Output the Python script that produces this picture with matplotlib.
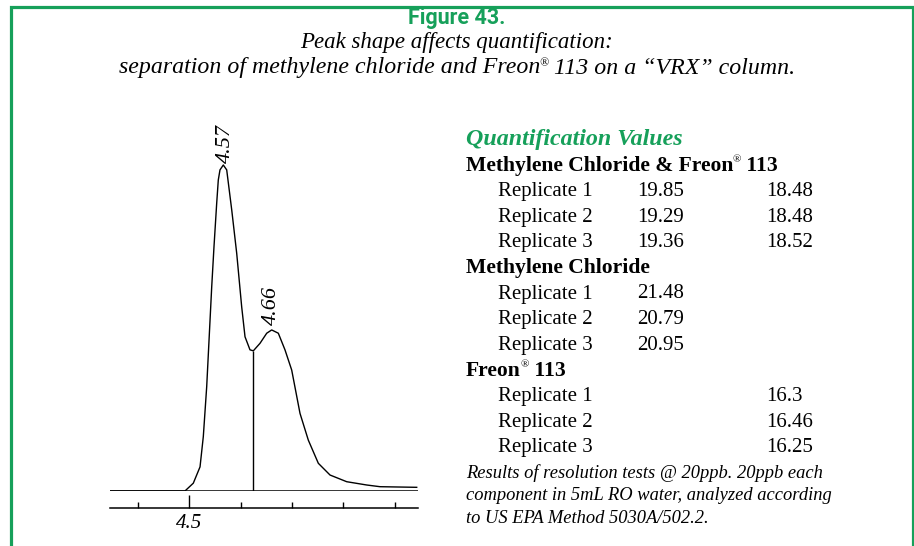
import numpy as np
import matplotlib
matplotlib.use('Agg')
import matplotlib.pyplot as plt
from matplotlib.patches import Rectangle
from matplotlib.text import Annotation

# chromatogram trace (time in min, signal as % of tallest peak)
time = [4.3454, 4.4916, 4.4949, 4.5078, 4.5209, 4.5273, 4.5339, 4.5437, 4.5481,
        4.5534, 4.5565, 4.5598, 4.5663, 4.5729, 4.5827, 4.5924, 4.6021, 4.6086,
        4.6183, 4.6248, 4.6378, 4.6509, 4.6606, 4.6735, 4.6865, 4.6996, 4.7158,
        4.7320, 4.7515, 4.7743, 4.8068, 4.8458, 4.8717, 4.9433]
signal = [0.0, 0.0, 0.5, 2.4, 7.4, 16.7, 32.0, 62.7, 74.9,
          88.3, 95.4, 98.5, 100.0, 98.5, 86.2, 72.9, 56.5, 47.3,
          43.3, 43.0, 45.3, 48.4, 49.4, 48.4, 43.3, 37.1, 23.8,
          15.6, 8.5, 4.9, 2.85, 1.84, 1.32, 1.13]
peak_times = [4.57, 4.66]
peak_labels = ['4.57', '4.66']
valley_time = 4.6248
valley_signal = 43.0
tick_major = [4.5]
tick_minor = [4.4, 4.6, 4.7, 4.8, 4.9]

# table ('|' marks where the small registered sign goes)
groups = ['Methylene Chloride & Freon| 113', 'Methylene Chloride', 'Freon| 113']
replicates = ['Replicate 1', 'Replicate 2', 'Replicate 3']
col1 = [['19.85', '19.29', '19.36'], ['21.48', '20.79', '20.95'], ['', '', '']]
col2 = [['18.48', '18.48', '18.52'], ['', '', ''], ['16.3', '16.46', '16.25']]
note = ['Results of resolution tests @ 20ppb. 20ppb each',
        'component in 5mL RO water, analyzed according',
        'to US EPA Method 5030A/502.2.']

green = '#16a05a'
serif = 'Liberation Serif'
W, H = 914, 546
fig = plt.figure(figsize=(W / 100, H / 100), dpi=100)
fig.patch.set_facecolor('white')

def fx(x):
    return x / W

def fy(y):
    return 1 - y / H

def put(x, y, s, ha='left', **kw):
    # text with a small raised (R) where '|' is
    if '|' not in s:
        return fig.text(x, y, s, ha=ha, va='center', **kw)
    a, b = s.split('|')
    t1 = fig.text(x, y, a, ha='left', va='center', **kw)
    small = dict(kw)
    small['fontsize'] = kw['fontsize'] * 0.5
    small['fontweight'] = 'normal'
    t2 = Annotation('\u00ae', xy=(1, 1), xycoords=t1, xytext=(-0.4, 0.3),
                    textcoords='offset points', ha='left', va='top', **small)
    fig.add_artist(t2)
    t3 = Annotation(b, xy=(1, 0), xycoords=(t2, t1), ha='left', va='bottom', **kw)
    fig.add_artist(t3)
    if ha == 'center':
        # shift the whole group so it is centred on x
        fig.canvas.draw()
        r = fig.canvas.get_renderer()
        x0 = t1.get_window_extent(r).x0
        x1 = t3.get_window_extent(r).x1
        t1.set_x(x - (x1 - x0) / 2 / (W))
    return t1

# green frame
fig.patches.append(Rectangle((fx(11), fy(560)), fx(902), (560 - 6.5) / H,
                             transform=fig.transFigure, fill=False,
                             edgecolor=green, linewidth=2.3))

fig.text(0.5, fy(18), 'Figure 43.', ha='center', va='center', color=green,
         family='Roboto', fontweight='bold', fontsize=15.5)
fig.text(0.5, fy(43), 'Peak shape affects quantification:', ha='center', va='center',
         family=serif, style='italic', fontsize=16.5)
put(0.5, fy(68), 'separation of methylene chloride and Freon| 113 on a \u201cVRX\u201d column.',
    ha='center', family=serif, style='italic', fontsize=17.2)

# chromatogram axes: x from px 110 to 418, baseline at px 491, top at px 150
x0, x1, yb, yt = 110, 418, 491, 150
ax = fig.add_axes([fx(x0), fy(yb), (x1 - x0) / W, (yb - yt) / H])
ax.set_xlim(4.3454, 4.9458)
ax.set_ylim(0, (yb - yt) / 3.26)
ax.plot(time, signal, color='black', lw=1.0)
ax.axhline(0, color='black', lw=1.1)
ax.vlines(valley_time, 0, valley_signal, color='black', lw=1.0)
for t, lab in zip(peak_times, peak_labels):
    s = np.interp(t, time, signal)
    ax.annotate(lab, (t, s), xytext=(0, 3.5), textcoords='offset points',
                rotation=90, ha='center', va='bottom', family=serif,
                style='italic', fontsize=16)

for sp in ['top', 'left', 'right']:
    ax.spines[sp].set_visible(False)
ax.spines['bottom'].set_position(('outward', 12.3))
ax.spines['bottom'].set_linewidth(1.1)
ax.set_yticks([])
ax.set_xticks(tick_major)
ax.set_xticklabels(['4.5'], family=serif, style='italic', fontsize=15)
ax.set_xticks(tick_minor, minor=True)
ax.tick_params(axis='x', which='major', direction='in', length=9.4, width=1.0, pad=4)
ax.tick_params(axis='x', which='minor', direction='in', length=4.6, width=1.0)
ax.patch.set_alpha(0)

# quantification table
xh, xr, xc1, xc2 = 466, 498, 637, 766
fig.text(fx(xh), fy(140), 'Quantification Values', ha='left', va='center', color=green,
         family=serif, style='italic', fontweight='bold', fontsize=17.3)
y = 166
row_h = 25.6
for g, name in enumerate(groups):
    put(fx(xh), fy(y), name, family=serif, fontweight='bold', fontsize=15.6)
    y += row_h
    for r, rep in enumerate(replicates):
        fig.text(fx(xr), fy(y), rep, ha='left', va='center', family=serif, fontsize=15)
        fig.text(fx(xc1), fy(y), col1[g][r], ha='left', va='center', family=serif, fontsize=15)
        fig.text(fx(xc2), fy(y), col2[g][r], ha='left', va='center', family=serif, fontsize=15)
        y += row_h
for i, line in enumerate(note):
    fig.text(fx(xh), fy(473 + i * 22.6), line, ha='left', va='center', family=serif,
             style='italic', fontsize=13.3)

fig.savefig('out.png', dpi=100)
